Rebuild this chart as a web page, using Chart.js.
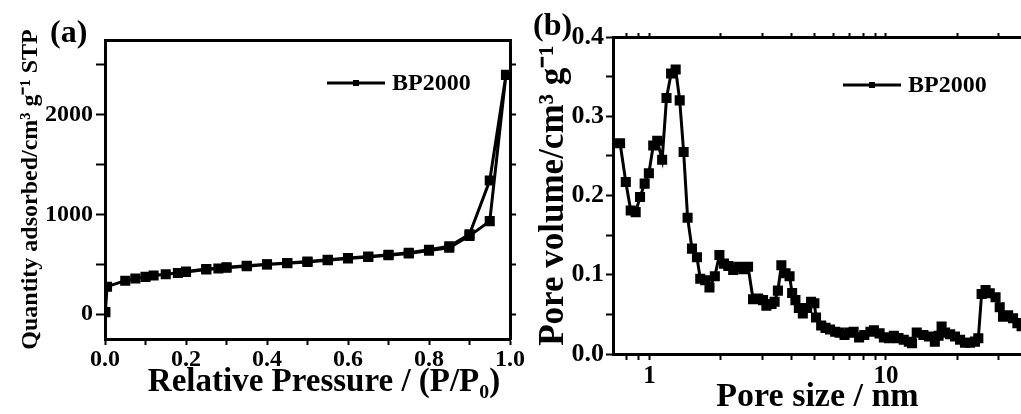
<!DOCTYPE html>
<html>
<head>
<meta charset="utf-8">
<script src="https://cdn.jsdelivr.net/npm/chart.js@4.4.0/dist/chart.umd.min.js"></script>
<style>
html, body { margin: 0; padding: 0; background: #fff; overflow: hidden; width: 1021px; height: 414px; }
.box { position: absolute; top: 0; }
#wrapA { left: 0; width: 532px; height: 414px; }
#wrapB { left: 520px; width: 510px; height: 414px; }
.tag { position: absolute; font: bold 32px 'Liberation Serif', 'Times New Roman', serif; line-height: 1; color: #000; }
</style>
</head>
<body>
<div class="box" id="wrapA"><canvas id="chartA"></canvas></div>
<div class="box" id="wrapB"><canvas id="chartB"></canvas></div>
<div class="tag" style="left:50px;top:15px">(a)</div>
<div class="tag" style="left:533px;top:8px">(b)</div>
<script>
// (a) isotherm, adsorption then desorption branch
const pressureAds = [0.001, 0.005, 0.05, 0.075, 0.1, 0.12, 0.15, 0.18, 0.2, 0.25, 0.28, 0.3, 0.35, 0.4, 0.45, 0.5, 0.55, 0.6, 0.65, 0.7, 0.75, 0.8, 0.85, 0.9, 0.95, 0.99];
const quantityAds = [20, 275, 335, 357, 373, 387, 400, 413, 423, 447, 457, 465, 480, 497, 510, 523, 540, 558, 572, 590, 608, 637, 665, 785, 933, 2400];
const pressureDes = [0.95, 0.9, 0.85, 0.8, 0.75, 0.7, 0.65, 0.6, 0.55, 0.5, 0.45, 0.4, 0.35, 0.3, 0.25, 0.2];
const quantityDes = [1340, 800, 680, 645, 615, 595, 578, 562, 545, 528, 513, 500, 485, 470, 452, 428];
const pressureTicks = [0, 0.1, 0.2, 0.3, 0.4, 0.5, 0.6, 0.7, 0.8, 0.9, 1.0];
const pressureLabels = [0, 0.2, 0.4, 0.6, 0.8, 1.0];
const quantityTicks = [0, 500, 1000, 1500, 2000, 2500];
const quantityLabels = [0, 1000, 2000];

// (b) pore size distribution
const poreSize = [0.75, 0.793, 0.832, 0.873, 0.911, 0.953, 0.993, 1.036, 1.077, 1.13, 1.179, 1.233, 1.289, 1.341, 1.393, 1.448, 1.511, 1.586, 1.638, 1.719, 1.792, 1.888, 1.974, 2.064, 2.153, 2.258, 2.37, 2.49, 2.61, 2.74, 2.88, 3.02, 3.12, 3.28, 3.38, 3.49, 3.61, 3.76, 3.91, 4.01, 4.14, 4.28, 4.45, 4.64, 4.82, 4.98, 5.06, 5.32, 5.55, 5.8, 6.1, 6.36, 6.68, 7.0, 7.3, 7.7, 8.1, 8.6, 8.9, 9.4, 9.8, 10.3, 10.8, 11.3, 11.9, 12.5, 12.9, 13.5, 14.4, 15.2, 16.1, 16.7, 17.2, 17.8, 18.7, 19.6, 20.6, 21.6, 22.7, 23.8, 24.6, 25.4, 26.4, 27.5, 29.1, 30.3, 31.3, 32.9, 34.5, 36.0, 37.5];
const poreVolume = [0.266, 0.217, 0.181, 0.179, 0.198, 0.215, 0.228, 0.263, 0.269, 0.245, 0.323, 0.354, 0.359, 0.320, 0.255, 0.172, 0.133, 0.122, 0.095, 0.093, 0.084, 0.098, 0.125, 0.114, 0.111, 0.106, 0.110, 0.107, 0.110, 0.069, 0.070, 0.068, 0.061, 0.063, 0.066, 0.080, 0.112, 0.102, 0.098, 0.077, 0.068, 0.058, 0.051, 0.058, 0.066, 0.064, 0.046, 0.036, 0.033, 0.031, 0.028, 0.027, 0.024, 0.027, 0.028, 0.021, 0.024, 0.028, 0.030, 0.026, 0.021, 0.020, 0.023, 0.020, 0.018, 0.0155, 0.0135, 0.027, 0.024, 0.022, 0.0156, 0.023, 0.0345, 0.027, 0.025, 0.022, 0.018, 0.0143, 0.0143, 0.0156, 0.0198, 0.0757, 0.0808, 0.0766, 0.0715, 0.059, 0.047, 0.049, 0.045, 0.039, 0.035];
const sizeTicks = [0.8, 0.9, 1, 2, 3, 4, 5, 6, 7, 8, 9, 10, 20, 30];
const sizeLabels = [1, 10];
const volumeTicks = [0, 0.05, 0.1, 0.15, 0.2, 0.25, 0.3, 0.35, 0.4];
const volumeLabels = [0, 0.1, 0.2, 0.3, 0.4];

Chart.defaults.font.family = "'Liberation Serif', 'Times New Roman', serif";
Chart.defaults.font.weight = 'bold';
Chart.defaults.color = '#000';

const setTicks = list => scale => { scale.ticks = list.map(v => ({ value: v })); };
const hasLabel = (list, v) => list.some(l => Math.abs(l - v) < 1e-9);

// legend drawn as line + square marker + name
const lineLegend = {
  id: 'lineLegend',
  afterDatasetsDraw(chart, args, opts) {
    const { ctx, chartArea } = chart;
    const x = chartArea.left + opts.x;
    const y = chartArea.top + opts.y;
    ctx.save();
    ctx.strokeStyle = '#000';
    ctx.lineWidth = 3;
    ctx.beginPath();
    ctx.moveTo(x, y);
    ctx.lineTo(x + 58, y);
    ctx.stroke();
    ctx.fillStyle = '#000';
    ctx.fillRect(x + 26, y - 3, 6, 6);
    ctx.font = "bold 24px 'Liberation Serif'";
    ctx.textBaseline = 'middle';
    ctx.fillText(chart.data.datasets[0].label, x + 65, y + 1);
    ctx.restore();
  }
};

const border = { display: true, width: 3, color: '#000' };
const tickGrid = len => ({ drawOnChartArea: false, drawTicks: true, tickLength: len, tickWidth: 2, tickColor: '#000' });
const lineStyle = { borderColor: '#000', backgroundColor: '#000', borderWidth: 3, pointStyle: 'rect', pointRadius: 5, pointHoverRadius: 5, tension: 0 };

const isoPoints = pressureAds.map((p, i) => ({ x: p, y: quantityAds[i] }))
  .concat(pressureDes.map((p, i) => ({ x: p, y: quantityDes[i] })));

new Chart(document.getElementById('chartA'), {
  type: 'line',
  data: { datasets: [Object.assign({ label: 'BP2000', data: isoPoints }, lineStyle)] },
  plugins: [lineLegend],
  options: {
    responsive: true,
    maintainAspectRatio: false,
    animation: false,
    layout: { padding: { top: 40, right: 16, left: 0, bottom: 0 } },
    plugins: { legend: { display: false }, tooltip: { enabled: false }, lineLegend: { x: 222, y: 43 } },
    scales: {
      x: {
        type: 'linear', position: 'bottom', min: 0, max: 1,
        afterBuildTicks: setTicks(pressureTicks),
        afterFit: s => { s.height = 75; },
        grid: tickGrid(6), border: border,
        ticks: { autoSkip: false, maxRotation: 0, padding: 0, font: { size: 24 },
          callback: v => hasLabel(pressureLabels, v) ? v.toFixed(1) : '' },
        title: { display: true, text: '    Relative Pressure / (P/P\u2080)', font: { size: 33, lineHeight: 1 }, padding: { top: 0, bottom: 15 } }
      },
      xTop: {
        type: 'linear', position: 'top', min: 0, max: 1,
        afterFit: s => { s.height = 0; },
        grid: { drawOnChartArea: false, drawTicks: false }, border: border,
        ticks: { display: false }
      },
      y: {
        type: 'linear', position: 'left', min: -250, max: 2750,
        afterBuildTicks: setTicks(quantityTicks),
        afterFit: s => { s.width = 105; },
        grid: tickGrid(9), border: border,
        ticks: { autoSkip: false, padding: 3, font: { size: 24 },
          callback: v => hasLabel(quantityLabels, v) ? String(v) : '' },
        title: { display: true, text: 'Quantity adsorbed/cm\u00B3 g\u207B\u00B9 STP', font: { size: 24, lineHeight: 1 }, padding: { top: 19, bottom: 0 } }
      },
      y2: {
        type: 'linear', position: 'right', min: -250, max: 2750,
        afterBuildTicks: setTicks(quantityTicks),
        afterFit: s => { s.width = 6; },
        grid: tickGrid(6), border: border,
        ticks: { display: false }
      }
    }
  }
});

const psdPoints = poreSize.map((d, i) => ({ x: d, y: poreVolume[i] }));

new Chart(document.getElementById('chartB'), {
  type: 'line',
  data: { datasets: [Object.assign({ label: 'BP2000', data: psdPoints }, lineStyle)] },
  plugins: [lineLegend],
  options: {
    responsive: true,
    maintainAspectRatio: false,
    animation: false,
    layout: { padding: { top: 33, right: 6, left: 0, bottom: 0 } },
    plugins: { legend: { display: false }, tooltip: { enabled: false }, lineLegend: { x: 230, y: 48 } },
    scales: {
      x: {
        type: 'logarithmic', position: 'bottom', min: 0.706, max: 37.65,
        afterBuildTicks: setTicks(sizeTicks),
        afterFit: s => { s.height = 60; },
        grid: tickGrid(6), border: border,
        ticks: { autoSkip: false, maxRotation: 0, padding: 2, font: { size: 25 },
          callback: v => hasLabel(sizeLabels, v) ? String(v) : '' },
        title: { display: true, text: 'Pore size / nm', font: { size: 34, lineHeight: 1 }, padding: { top: 0, bottom: 0 } }
      },
      xTop: {
        type: 'logarithmic', position: 'top', min: 0.706, max: 37.65,
        afterBuildTicks: setTicks(sizeTicks),
        afterFit: s => { s.height = 4; },
        grid: tickGrid(4), border: border,
        ticks: { display: false }
      },
      y: {
        type: 'linear', position: 'left', min: 0, max: 0.4,
        afterBuildTicks: setTicks(volumeTicks),
        afterFit: s => { s.width = 93; },
        grid: tickGrid(7), border: border,
        ticks: { autoSkip: false, padding: 2, font: { size: 26 },
          callback: v => hasLabel(volumeLabels, v) ? v.toFixed(1) : '' },
        title: { display: true, text: 'Pore volume/cm\u00B3 g\u207B\u00B9', font: { size: 35, lineHeight: 1 }, padding: { top: 16, bottom: 0 } }
      }
    }
  }
});
</script>
</body>
</html>
